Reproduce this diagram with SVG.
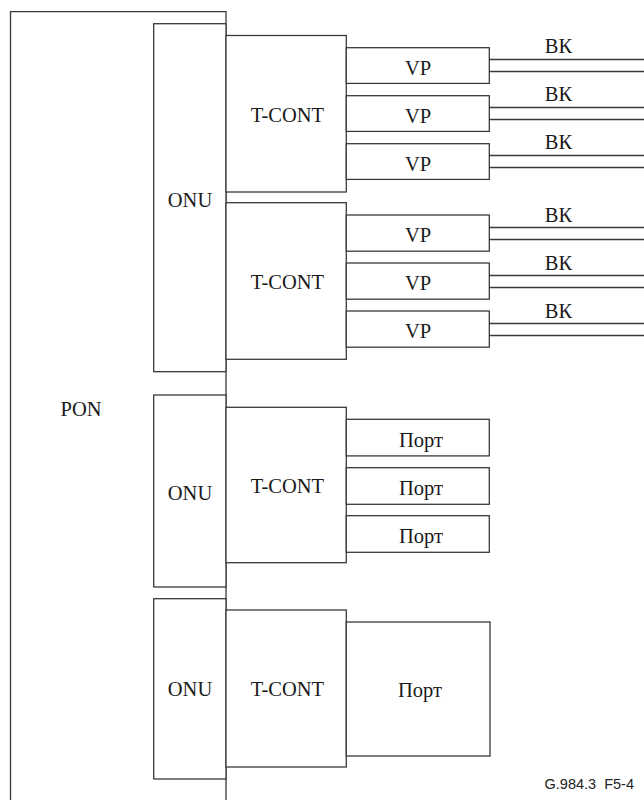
<svg xmlns="http://www.w3.org/2000/svg" width="644" height="800" viewBox="0 0 644 800">
<style>
.b{fill:#fff;stroke:#3a3a3a;stroke-width:1.3}
.l{fill:none;stroke:#3a3a3a;stroke-width:1.3}
.t{font-family:'Liberation Serif','Times New Roman',serif;font-size:20.5px;fill:#1a1a1a;text-anchor:middle}
.f{font-family:'Liberation Sans',Arial,sans-serif;font-size:14.5px;fill:#222;text-anchor:end}
</style>
<rect width="644" height="800" fill="#fff"/>
<g id="pon">
<path class="l" d="M10.5 800V11.7H226V800"/>
<text class="t" x="81" y="415.5">PON</text>
</g>
<g id="onu1"><rect class="b" x="153.7" y="23.7" width="72.3" height="348"/><text class="t" x="190" y="206.5">ONU</text></g>
<g id="onu2"><rect class="b" x="153.7" y="395" width="72.3" height="192"/><text class="t" x="190" y="500">ONU</text></g>
<g id="onu3"><rect class="b" x="153.7" y="598.7" width="72.3" height="180.3"/><text class="t" x="190" y="696">ONU</text></g>
<g id="tcont1"><rect class="b" x="226" y="35.5" width="120.3" height="156.5"/><text class="t" x="287.5" y="122">T-CONT</text></g>
<g id="tcont2"><rect class="b" x="226" y="202.7" width="120.3" height="156.6"/><text class="t" x="287.5" y="289">T-CONT</text></g>
<g id="tcont3"><rect class="b" x="226" y="407.3" width="120.3" height="155.4"/><text class="t" x="287.5" y="493">T-CONT</text></g>
<g id="tcont4"><rect class="b" x="226" y="610" width="120.3" height="157"/><text class="t" x="287.5" y="696">T-CONT</text></g>
<g id="vp1"><rect class="b" x="346.3" y="47.7" width="143" height="35.7"/><text class="t" x="418" y="74.5">VP</text></g>
<g id="vp2"><rect class="b" x="346.3" y="95.7" width="143" height="35.7"/><text class="t" x="418" y="122.5">VP</text></g>
<g id="vp3"><rect class="b" x="346.3" y="143.7" width="143" height="35.7"/><text class="t" x="418" y="170.5">VP</text></g>
<g id="vp4"><rect class="b" x="346.3" y="215" width="143" height="36.2"/><text class="t" x="418" y="242">VP</text></g>
<g id="vp5"><rect class="b" x="346.3" y="263" width="143" height="36.2"/><text class="t" x="418" y="290">VP</text></g>
<g id="vp6"><rect class="b" x="346.3" y="311" width="143" height="36.2"/><text class="t" x="418" y="338">VP</text></g>
<g id="port1"><rect class="b" x="346.3" y="419.3" width="143" height="36.6"/><text class="t" x="421" y="446.5">Порт</text></g>
<g id="port2"><rect class="b" x="346.3" y="467.7" width="143" height="36.6"/><text class="t" x="421" y="494.8">Порт</text></g>
<g id="port3"><rect class="b" x="346.3" y="515.7" width="143" height="36.6"/><text class="t" x="421" y="542.8">Порт</text></g>
<g id="port4"><rect class="b" x="346.3" y="622" width="143.7" height="134"/><text class="t" x="420" y="697">Порт</text></g>
<g id="connectors">
<path class="l" d="M489.3 59.5H644M489.3 71.5H644M489.3 107.5H644M489.3 119.5H644M489.3 155.5H644M489.3 167.5H644M489.3 227.5H644M489.3 239.5H644M489.3 275.5H644M489.3 287.5H644M489.3 323.5H644M489.3 335.5H644"/>
</g>
<g id="labels">
<text class="t" x="558.5" y="52.7">ВК</text>
<text class="t" x="558.5" y="100.7">ВК</text>
<text class="t" x="558.5" y="148.7">ВК</text>
<text class="t" x="558.5" y="221.7">ВК</text>
<text class="t" x="558.5" y="269.7">ВК</text>
<text class="t" x="558.5" y="317.7">ВК</text>
<text class="f" x="634" y="789" xml:space="preserve">G.984.3  F5-4</text>
</g>
</svg>
